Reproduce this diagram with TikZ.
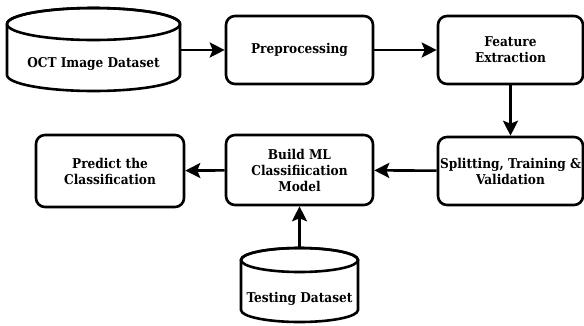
\documentclass[tikz,border=0pt]{standalone}
\usepackage{fontspec}
\setmainfont{DejaVu Serif Condensed}
\usetikzlibrary{arrows.meta}
\begin{document}
\begin{tikzpicture}[x=1pt,y=-1pt,
  txt/.style={align=center, font=\fontsize{13.5}{16}\selectfont\bfseries, inner sep=0pt},
  procbox/.style={txt, draw, line width=2.6pt, rounded corners=9pt, fill=white},
  dbshape/.style={draw, line width=2.6pt, fill=white},
  conn/.style={line width=2.6pt, -{Stealth[length=15pt,width=15pt,inset=3pt]}}]
\useasboundingbox (0,0) rectangle (584,325);
% OCT cylinder: x 7..180, top 8, bottom 91, ry 16
\node[minimum width=173pt, minimum height=83pt, inner sep=0pt] (oct) at (93.5,49.5) {};
\path[dbshape] (7,24) -- (7,75) arc[start angle=180, end angle=360, x radius=86.5pt, y radius=16pt] -- (180,24) arc[start angle=0, end angle=180, x radius=86.5pt, y radius=16pt] -- cycle;
\draw[line width=2.6pt] (93.5,24) ellipse[x radius=86.5pt, y radius=16pt];
\node[txt] (octtext) at (93.5,64) {OCT Image Dataset};
% Testing cylinder: x 241..358, top 248, bottom 322, ry 12
\node[minimum width=117pt, minimum height=74pt, inner sep=0pt] (test) at (299.5,285) {};
\path[dbshape] (241,260) -- (241,310) arc[start angle=180, end angle=360, x radius=58.5pt, y radius=12pt] -- (358,260) arc[start angle=0, end angle=180, x radius=58.5pt, y radius=12pt] -- cycle;
\draw[line width=2.6pt] (299.5,260) ellipse[x radius=58.5pt, y radius=12pt];
\node[txt] (testtext) at (299.5,299) {Testing Dataset};
% boxes
\node[procbox, minimum width=147pt, minimum height=68pt] (pre) at (299.5,50) {Preprocessing};
\node[procbox, minimum width=145pt, minimum height=68pt] (feat) at (510.5,50) {Feature\\Extraction};
\node[procbox, minimum width=145pt, minimum height=68pt] (split) at (510.5,171) {Splitting, Training \&\\Validation};
\node[procbox, minimum width=147pt, minimum height=70pt] (build) at (299.5,170) {Build ML\\Classifiication\\Model};
\node[procbox, minimum width=148pt, minimum height=72pt] (pred) at (110,171) {Predict the\\Classification};
% connectors
\draw[conn] (oct.east |- pre.west) -- (pre.west);
\draw[conn] (pre) -- (feat);
\draw[conn] (feat) -- (split);
\draw[conn] (split) -- (build);
\draw[conn] (build) -- (pred);
\draw[conn] (test) -- (build);
\end{tikzpicture}
\end{document}
